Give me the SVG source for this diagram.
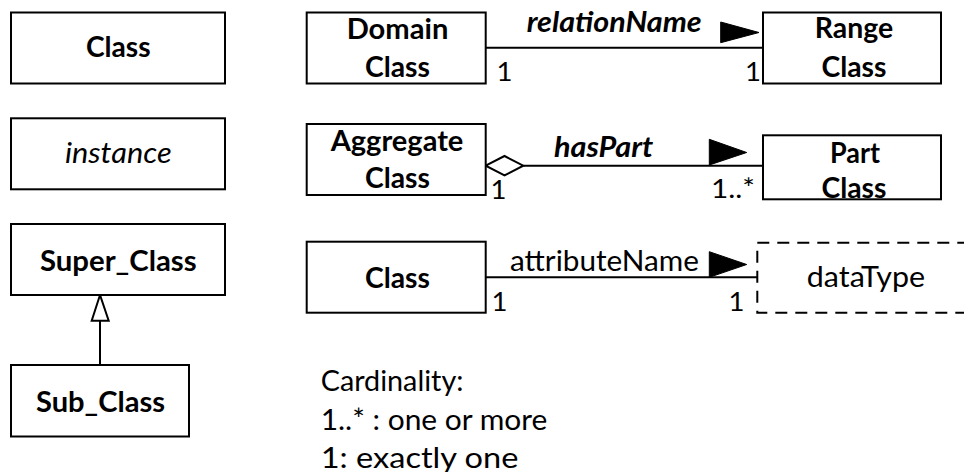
<svg xmlns="http://www.w3.org/2000/svg" width="964" height="472" viewBox="0 0 964 472">
<style>
.box{fill:#fff;stroke:#000;stroke-width:2}
.dash{fill:#fff;stroke:#000;stroke-width:2;stroke-dasharray:12 8}
.ln{fill:none;stroke:#000;stroke-width:2}
.arr{fill:#000;stroke:#000;stroke-width:1}
.b{font-family:Lato,"Liberation Sans",sans-serif;font-weight:bold;font-size:29px;fill:#000}
.bi{font-family:Lato,"Liberation Sans",sans-serif;font-weight:bold;font-style:italic;font-size:29px;fill:#000}
.i{font-family:Lato,"Liberation Sans",sans-serif;font-style:italic;font-size:29.5px;fill:#000}
.r{font-family:Lato,"Liberation Sans",sans-serif;font-size:29.5px;fill:#000}
.m{font-family:Lato,"Liberation Sans",sans-serif;font-size:27.5px;fill:#000}
</style>
<rect width="964" height="472" fill="#fff"/>
<g id="connectors">
<line class="ln" x1="485.7" y1="47.7" x2="763" y2="47.7"/>
<polygon class="arr" points="720.7,22 759,32.5 720.7,42.7"/>
<line class="ln" x1="523.3" y1="165.7" x2="763" y2="165.7"/>
<polygon class="ln" style="fill:#fff" points="485.7,165.7 504.5,156 523.3,165.7 504.5,175.4"/>
<polygon class="arr" points="709.3,139.3 746.7,152.5 709.3,165"/>
<line class="ln" x1="485.7" y1="277.3" x2="757.3" y2="277.3"/>
<polygon class="arr" points="709.3,251.7 746.7,264.5 709.3,277.3"/>
<line class="ln" x1="100" y1="320.7" x2="100" y2="365"/>
<polygon class="ln" style="fill:#fff" points="100,295 91.7,320.7 108.7,320.7"/>
</g>
<g id="legend-class">
<rect class="box" x="11" y="12.5" width="214" height="71"/>
<text class="b" x="118.3" y="57" text-anchor="middle" textLength="64.7" lengthAdjust="spacingAndGlyphs">Class</text>
</g>
<g id="legend-instance">
<rect class="box" x="11" y="118.3" width="214" height="71"/>
<text class="i" x="118.3" y="163.3" text-anchor="middle" textLength="106.7" lengthAdjust="spacingAndGlyphs">instance</text>
</g>
<g id="super-class">
<rect class="box" x="11" y="224" width="214" height="71"/>
<text class="b" x="118.3" y="270.7" text-anchor="middle" textLength="156.7" lengthAdjust="spacingAndGlyphs">Super_Class</text>
</g>
<g id="sub-class">
<rect class="box" x="11" y="365" width="178" height="71.5"/>
<text class="b" x="100.5" y="411.7" text-anchor="middle" textLength="129" lengthAdjust="spacingAndGlyphs">Sub_Class</text>
</g>
<g id="domain-class">
<rect class="box" x="306.7" y="12.5" width="179" height="71"/>
<text class="b" x="397.5" y="39" text-anchor="middle" textLength="101.7" lengthAdjust="spacingAndGlyphs">Domain</text>
<text class="b" x="397.5" y="76.7" text-anchor="middle" textLength="65" lengthAdjust="spacingAndGlyphs">Class</text>
</g>
<g id="range-class">
<rect class="box" x="763" y="12.5" width="178" height="71"/>
<text class="b" x="854" y="37.7" text-anchor="middle" textLength="78.3" lengthAdjust="spacingAndGlyphs">Range</text>
<text class="b" x="854" y="76.7" text-anchor="middle" textLength="65" lengthAdjust="spacingAndGlyphs">Class</text>
</g>
<g id="aggregate-class">
<rect class="box" x="306.7" y="124" width="179" height="71"/>
<text class="b" x="397" y="150.7" text-anchor="middle" textLength="132.7" lengthAdjust="spacingAndGlyphs">Aggregate</text>
<text class="b" x="397.5" y="188.3" text-anchor="middle" textLength="65" lengthAdjust="spacingAndGlyphs">Class</text>
</g>
<g id="part-class">
<rect class="box" x="763" y="135.3" width="178" height="64"/>
<text class="b" x="855" y="163.3" text-anchor="middle" textLength="50" lengthAdjust="spacingAndGlyphs">Part</text>
<text class="b" x="854" y="197.5" text-anchor="middle" textLength="65" lengthAdjust="spacingAndGlyphs">Class</text>
</g>
<g id="attr-class">
<rect class="box" x="306.7" y="241.7" width="179" height="71"/>
<text class="b" x="397.5" y="288.3" text-anchor="middle" textLength="65" lengthAdjust="spacingAndGlyphs">Class</text>
</g>
<g id="datatype">
<rect class="dash" x="757.3" y="242.7" width="230" height="70"/>
<text class="r" x="866" y="286.7" text-anchor="middle" textLength="118.3" lengthAdjust="spacingAndGlyphs">dataType</text>
</g>
<g id="labels">
<text class="bi" x="526.7" y="32.3" textLength="175" lengthAdjust="spacingAndGlyphs">relationName</text>
<text class="m" x="496.5" y="81.2">1</text>
<text class="m" x="745" y="81.2">1</text>
<text class="bi" x="554" y="156.7" textLength="99.3" lengthAdjust="spacingAndGlyphs">hasPart</text>
<text class="m" x="490.5" y="198.5">1</text>
<text class="m" x="711" y="198" textLength="44" lengthAdjust="spacingAndGlyphs">1..*</text>
<text class="r" x="510" y="271" textLength="189" lengthAdjust="spacingAndGlyphs">attributeName</text>
<text class="m" x="491.5" y="311.2">1</text>
<text class="m" x="728.5" y="311.2">1</text>
</g>
<g id="legend-text">
<text class="r" x="320.7" y="391" textLength="142.7" lengthAdjust="spacingAndGlyphs">Cardinality:</text>
<text class="r" x="320.7" y="430" textLength="226.7" lengthAdjust="spacingAndGlyphs">1..* : one or more</text>
<text class="r" x="320.7" y="467.5" textLength="197.7" lengthAdjust="spacingAndGlyphs">1: exactly one</text>
</g>
</svg>
